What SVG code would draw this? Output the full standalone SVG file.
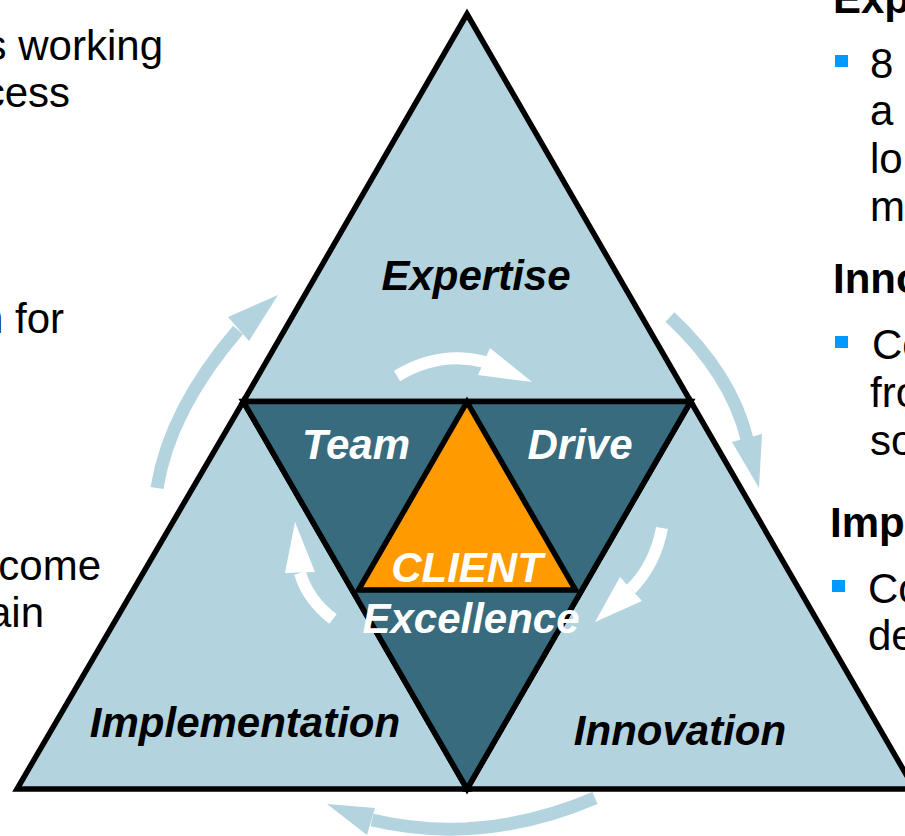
<svg xmlns="http://www.w3.org/2000/svg" width="905" height="836" viewBox="0 0 905 836">
<style>
.lb{fill:#B3D3DF;stroke:#000;stroke-width:5.5;stroke-linejoin:miter}
.dk{fill:#376B7D;stroke:#000;stroke-width:5.5;stroke-linejoin:miter}
.or{fill:#FF9A00;stroke:#000;stroke-width:5.5;stroke-linejoin:miter}
.lab{font-family:"Liberation Sans",Arial,sans-serif;font-size:42px;font-weight:bold;font-style:italic;text-anchor:middle}
.blk{fill:#000}
.wht{fill:#fff}
.body{font-family:"Liberation Sans",Arial,sans-serif;font-size:42px;fill:#000}
.hd{font-family:"Liberation Sans",Arial,sans-serif;font-size:42px;font-weight:bold;fill:#000}
.bul{fill:#0099FF}
.oshaft{fill:none;stroke:#B3D3DF;stroke-width:13}
.ohead{fill:#B3D3DF}
.ishaft{fill:none;stroke:#fff;stroke-width:12}
.ihead{fill:#fff}
</style>
<rect width="905" height="836" fill="#fff"/>
<g id="left-text">
<text class="body" x="163" y="60" text-anchor="end">s working</text>
<text class="body" x="70" y="107" text-anchor="end">cess</text>
<text class="body" x="64" y="333" text-anchor="end">n for</text>
<text class="body" x="101" y="580" text-anchor="end">come</text>
<text class="body" x="44" y="627" text-anchor="end">ain</text>
</g>
<g id="right-text">
<text class="hd" x="833" y="13">Exp</text>
<rect class="bul" x="835" y="55" width="13" height="12"/>
<text class="body" x="870" y="78">8</text>
<text class="body" x="870" y="125">a</text>
<text class="body" x="870" y="173">lo</text>
<text class="body" x="870" y="221">m</text>
<text class="hd" x="833" y="293">Inno</text>
<rect class="bul" x="835" y="336" width="13" height="12"/>
<text class="body" x="872" y="359">Co</text>
<text class="body" x="870" y="407">fro</text>
<text class="body" x="870" y="455">so</text>
<text class="hd" x="830" y="537">Imp</text>
<rect class="bul" x="832" y="580" width="13" height="12"/>
<text class="body" x="868" y="603">Co</text>
<text class="body" x="868" y="650">de</text>
</g>
<g id="node-expertise">
<polygon class="lb" points="467,14 690.75,401.5 243.25,401.5"/>
<text class="lab blk" x="476" y="290">Expertise</text>
</g>
<g id="node-implementation">
<polygon class="lb" points="243.25,401.5 467,789 17,789"/>
<text class="lab blk" x="245" y="737">Implementation</text>
</g>
<g id="node-innovation">
<polygon class="lb" points="690.75,401.5 914.5,789 467,789"/>
<text class="lab blk" x="680" y="745">Innovation</text>
</g>
<g id="node-excellence">
<polygon class="dk" points="243.25,401.5 690.75,401.5 467,789"/>
<text class="lab wht" x="356" y="459">Team</text>
<text class="lab wht" x="580" y="459">Drive</text>
<text class="lab wht" x="471" y="633">Excellence</text>
</g>
<g id="node-client">
<polygon class="or" points="467,402 575.5,590 358.5,590"/>
<text class="lab wht" x="467" y="582">CLIENT</text>
</g>
<g id="connectors">
<path class="oshaft" d="M157,488 Q169.5,410 238,330"/>
<polygon class="ohead" points="278,295 228,317 249,341"/>
<path class="oshaft" d="M670,317 Q731,374 747,439"/>
<polygon class="ohead" points="732,442 762,434 759,488"/>
<path class="oshaft" d="M595,798 Q482.5,846 372,820"/>
<polygon class="ohead" points="375,808 367,835 327,804"/>
<path class="ishaft" d="M397,376 Q440,350 485,362"/>
<polygon class="ihead" points="490,348 478,375 532,382"/>
<path class="ishaft" d="M662,528 Q655,565 631,589"/>
<polygon class="ihead" points="642,601 620,577 595,622"/>
<path class="ishaft" d="M333,619 Q308,600 300,573"/>
<polygon class="ihead" points="285,573 315,572 295,522"/>
</g>
</svg>
